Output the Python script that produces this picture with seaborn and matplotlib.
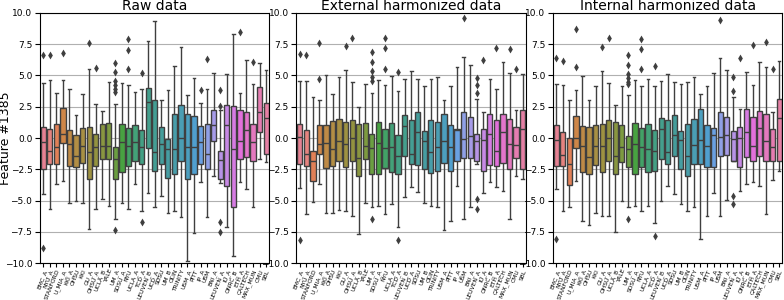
import numpy as np
import pandas as pd
import matplotlib
matplotlib.use("Agg")
import matplotlib.pyplot as plt
import seaborn as sns

# site labels (x axis)
sites = ["EMC_A", "NYU_A", "STANFORD", "U_MIA_A", "KKI_A", "OHSU", "KKI",
         "GU_A", "OHSU_A", "UCLA_B", "YALE", "UM_A", "SDSU_A", "NYU",
         "UCLA_A", "TCD_A", "LEUVEN_B", "UCD_A", "SDSU", "UM_B", "OLIN",
         "TRINITY", "USM_A", "PITT", "IP_A", "USM", "BNI_A", "LEUVEN_A",
         "IU_A", "ONRC_B", "ETH_A", "CALTECH", "MAX_MUN", "CMU", "SBL"]

# raw data: whisker low, q1, median, q3, whisker high
raw_lo = [-4.5, -5.7, -3.65, -3.45, -5.2, -5.0, -5.2, -7.25, -5.65, -4.85, -5.4, -6.45,
          -5.2, -5.7, -3.65, -5.8, -4.4, -5.55, -4.6, -6.0, -5.85, -6.3, -9.8, -7.6,
          -3.5, -6.35, -3.05, -3.6, -7.15, -9.45, -3.5, -4.05, -5.55, -1.7, -1.95]
raw_q1 = [-2.5, -2.05, -2.1, -0.4, -2.2, -2.3, -2.0, -3.3, -2.2, -1.65, -1.7, -3.25,
          -2.75, -2.25, -1.85, -2.1, -0.8, -2.6, -2.05, -3.2, -2.85, -1.85, -3.3, -2.85,
          -2.05, -2.5, -0.2, -3.25, -3.85, -5.5, -1.65, -1.55, -1.85, 0.5, -1.25]
raw_med = [-0.3, -1.05, -0.7, 0.35, -0.5, -1.4, -0.6, -1.15, -0.7, -0.65, -0.65, -1.7,
           -0.35, -0.65, -0.35, -0.7, 2.9, -1.1, -0.5, -0.85, -0.85, 0.0, -0.7, -0.7,
           -0.3, -1.25, 1.0, -1.75, 1.0, -0.9, -0.25, 0.65, -0.3, 2.1, 1.6]
raw_q3 = [0.88, 0.75, 1.1, 2.4, 0.6, 0.2, 0.8, 0.85, 0.35, 1.15, 1.2, -0.7,
          1.15, 0.8, 1.0, 0.65, 4.0, 3.05, 0.85, -0.05, 1.95, 2.6, 1.95, 1.75,
          0.95, 1.1, 2.25, -1.05, 2.6, 2.55, 2.2, 2.1, 1.15, 4.05, 2.8]
raw_hi = [4.4, 4.6, 3.6, 4.65, 3.9, 1.8, 3.5, 5.5, 2.7, 2.15, 4.5, 2.7,
          4.4, 4.2, 3.7, 3.9, 7.75, 9.35, 3.05, 3.8, 5.75, 7.3, 3.4, 4.8,
          2.8, 3.9, 5.2, 2.2, 5.1, 8.35, 3.6, 6.25, 4.35, 6.0, 5.4]
raw_out_site = ["EMC_A", "EMC_A", "NYU_A", "U_MIA_A", "GU_A", "OHSU_A",
                "UM_A", "UM_A", "UM_A", "UM_A", "UM_A", "UM_A", "UM_A",
                "NYU", "NYU", "NYU", "TCD_A", "TCD_A", "IP_A", "USM",
                "LEUVEN_A", "LEUVEN_A", "LEUVEN_A", "LEUVEN_A", "ETH_A", "MAX_MUN"]
raw_out_val = [6.6, -8.8, 6.6, 6.8, 7.6, 5.6,
               6.0, 5.3, 4.55, 4.2, 3.95, 3.7, -7.35,
               7.9, 7.0, 5.5, 5.2, -6.7, 3.8, 6.3,
               3.85, 2.55, -6.7, -7.55, 8.5, 6.05]

# external harmonized data
ext_lo = [-4.0, -6.1, -5.1, -3.7, -6.0, -6.0, -5.75, -5.85, -6.2, -7.65, -5.2, -5.5,
          -5.45, -6.1, -5.3, -7.1, -4.7, -3.95, -4.3, -5.2, -5.45, -5.55, -7.35, -6.6,
          -3.8, -6.5, -5.5, -2.05, -4.4, -3.55, -3.9, -4.2, -6.45, -3.05, -3.25]
ext_q1 = [-2.1, -2.25, -3.4, -1.25, -2.4, -2.2, -1.8, -2.35, -1.8, -3.05, -1.7, -2.85,
          -2.85, -2.4, -2.7, -2.9, -1.45, -2.1, -2.15, -2.5, -2.8, -2.6, -2.0, -2.6,
          -1.8, -1.6, -1.6, -1.8, -2.6, -2.15, -2.25, -2.0, -2.45, -1.6, -2.45]
ext_med = [0.1, -1.25, -1.8, -0.5, -0.4, -0.9, -0.25, -0.45, 0.0, -1.6, -0.65, -0.8,
           -0.4, -0.8, -0.7, -1.45, 0.95, -1.25, 0.5, -0.2, -1.1, -0.7, -0.25, -0.7,
           0.65, -0.05, 0.15, -0.25, -0.15, 0.35, -1.05, 0.5, -0.5, -0.55, 0.75]
ext_q3 = [1.15, 0.6, -1.05, 1.05, 1.05, 1.35, 1.55, 1.3, 1.4, 1.1, 1.2, 0.3,
          1.25, 0.75, 1.2, 0.2, 1.8, 1.45, 2.05, 0.55, 1.4, 1.3, 1.95, 1.05,
          0.75, 2.05, 1.7, 0.35, 0.7, 1.95, 1.4, 1.95, 1.5, 0.9, 2.2]
ext_hi = [4.55, 4.55, 3.25, 3.0, 5.0, 3.5, 4.85, 5.45, 4.45, 2.5, 4.35, 3.6,
          4.6, 4.2, 4.95, 3.75, 4.7, 5.35, 4.7, 4.15, 4.7, 4.85, 3.0, 4.15,
          5.7, 6.5, 5.85, 3.15, 2.1, 4.75, 3.95, 6.05, 5.2, 2.2, 5.1]
ext_out_site = ["EMC_A", "EMC_A", "NYU_A", "U_MIA_A", "U_MIA_A", "GU_A", "OHSU_A",
                "UM_A", "UM_A", "UM_A", "UM_A", "UM_A", "UM_A",
                "NYU", "NYU", "NYU", "TCD_A", "TCD_A", "USM",
                "LEUVEN_A", "LEUVEN_A", "LEUVEN_A", "LEUVEN_A", "LEUVEN_A",
                "IU_A", "ETH_A", "MAX_MUN", "CMU"]
ext_out_val = [6.75, -8.15, 6.65, 7.6, 4.75, 7.35, 8.0,
               6.9, 6.1, 5.35, 4.9, 4.55, -6.45,
               8.0, 7.2, 5.55, 5.3, -8.15, 9.6,
               4.8, 4.2, 3.6, -4.85, -5.65,
               6.2, 7.2, 7.15, 5.5]

# internal harmonized data
int_lo = [-4.05, -5.85, -5.5, -3.45, -6.6, -6.95, -6.0, -6.25, -6.2, -7.55, -5.0, -5.5,
          -5.45, -5.85, -5.45, -6.8, -5.0, -3.8, -4.45, -5.25, -5.85, -5.5, -8.05, -6.2,
          -4.4, -6.25, -4.95, -1.85, -4.25, -3.7, -3.5, -3.8, -6.05, -3.35, -2.65]
int_q1 = [-2.2, -2.25, -3.75, -0.8, -2.75, -2.9, -2.15, -2.7, -1.8, -2.9, -1.9, -2.35,
          -2.85, -2.35, -2.75, -2.6, -1.65, -2.05, -1.45, -2.5, -3.05, -2.05, -2.1, -2.3,
          -2.3, -1.45, -1.35, -1.8, -2.35, -1.5, -1.8, -1.4, -1.8, -1.85, -1.8]
int_med = [-0.15, -1.35, -2.1, 0.0, -0.6, -1.5, -0.65, -0.65, 0.0, -1.4, -0.75, -0.85,
           -0.45, -0.7, -0.9, -1.05, 0.7, -1.15, 0.2, -0.15, -1.4, -0.55, -0.15, -0.6,
           0.25, 0.1, 0.2, -0.1, 0.0, 0.5, -0.65, 0.8, -0.2, -0.7, 1.6]
int_q3 = [1.0, 0.5, 0.0, 1.75, 0.95, 0.9, 1.05, 1.15, 1.4, 1.3, 1.0, 0.15,
          1.2, 0.8, 1.1, 0.6, 1.6, 1.4, 1.85, 0.55, 1.15, 1.5, 2.3, 1.05,
          0.8, 2.1, 1.65, 0.55, 0.9, 2.3, 1.7, 2.15, 1.95, 0.75, 3.1]
int_hi = [4.3, 4.2, 3.05, 3.8, 4.95, 3.0, 4.15, 5.35, 4.4, 2.6, 4.15, 3.4,
          4.6, 4.15, 4.75, 4.15, 4.55, 5.1, 4.45, 4.3, 4.45, 4.9, 3.5, 4.15,
          5.2, 6.4, 5.4, 3.3, 2.35, 5.3, 4.2, 6.1, 5.7, 2.05, 6.15]
int_out_site = ["EMC_A", "EMC_A", "NYU_A", "U_MIA_A", "U_MIA_A", "GU_A", "OHSU_A",
                "UM_A", "UM_A", "UM_A", "UM_A", "UM_A", "UM_A", "UM_A",
                "NYU", "NYU", "NYU", "TCD_A", "TCD_A", "USM",
                "LEUVEN_A", "LEUVEN_A", "LEUVEN_A", "LEUVEN_A",
                "IU_A", "ETH_A", "MAX_MUN", "CMU"]
int_out_val = [6.4, -8.1, 6.15, 8.75, 5.7, 7.3, 8.0,
               6.6, 5.85, 5.15, 4.8, 4.5, 4.35, -6.45,
               7.95, 7.1, 5.5, 5.75, -7.85, 9.4,
               4.85, 3.75, -4.6, -5.25,
               6.4, 7.45, 7.65, 5.55]

panels = [
    ("Raw data", raw_lo, raw_q1, raw_med, raw_q3, raw_hi, raw_out_site, raw_out_val),
    ("External harmonized data", ext_lo, ext_q1, ext_med, ext_q3, ext_hi, ext_out_site, ext_out_val),
    ("Internal harmonized data", int_lo, int_q1, int_med, int_q3, int_hi, int_out_site, int_out_val),
]

line_col = "#3f3f3f"

fig, axes = plt.subplots(1, 3, figsize=(7.84, 3.0), dpi=100)
fig.subplots_adjust(left=0.051, right=0.998, bottom=0.123, top=0.957, wspace=0.118)

for ax, (title, lo, q1, med, q3, hi, osite, oval) in zip(axes, panels):
    # five points per site give exactly the box stats with whis=(0, 100)
    rows = []
    for s, a, b, c, d, e in zip(sites, lo, q1, med, q3, hi):
        for v in (a, b, c, d, e):
            rows.append((s, v))
    df = pd.DataFrame(rows, columns=["site", "value"])

    ax.grid(True, color="#b0b0b0", linewidth=0.8)
    ax.set_axisbelow(True)
    sns.boxplot(data=df, x="site", y="value", hue="site", order=sites,
                hue_order=sites, palette="husl", saturation=0.75,
                whis=(0, 100), showfliers=False, linecolor=line_col,
                linewidth=1, width=0.8, legend=False, ax=ax)
    out = pd.DataFrame({"site": osite, "value": oval})
    sns.stripplot(data=out, x="site", y="value", order=sites, jitter=False,
                  marker="d", color=line_col, size=4, ax=ax)

    ax.set_title(title, fontsize=10, pad=2)
    ax.set_ylim(-10, 10)
    ax.set_yticks(np.arange(-10, 10.1, 2.5))
    ax.set_xlim(-0.5, len(sites) - 0.5)
    ax.tick_params(axis="y", labelsize=6.5, pad=2)
    ax.tick_params(axis="x", labelsize=4.3, pad=1, length=3)
    plt.setp(ax.get_xticklabels(), rotation=68, ha="right",
             rotation_mode="anchor")
    ax.set_xlabel("")
    ax.set_ylabel("")

axes[0].set_ylabel("Feature #1385", fontsize=9)
axes[0].yaxis.set_label_coords(-0.122, 0.5)

plt.savefig("out.png", dpi=100)
